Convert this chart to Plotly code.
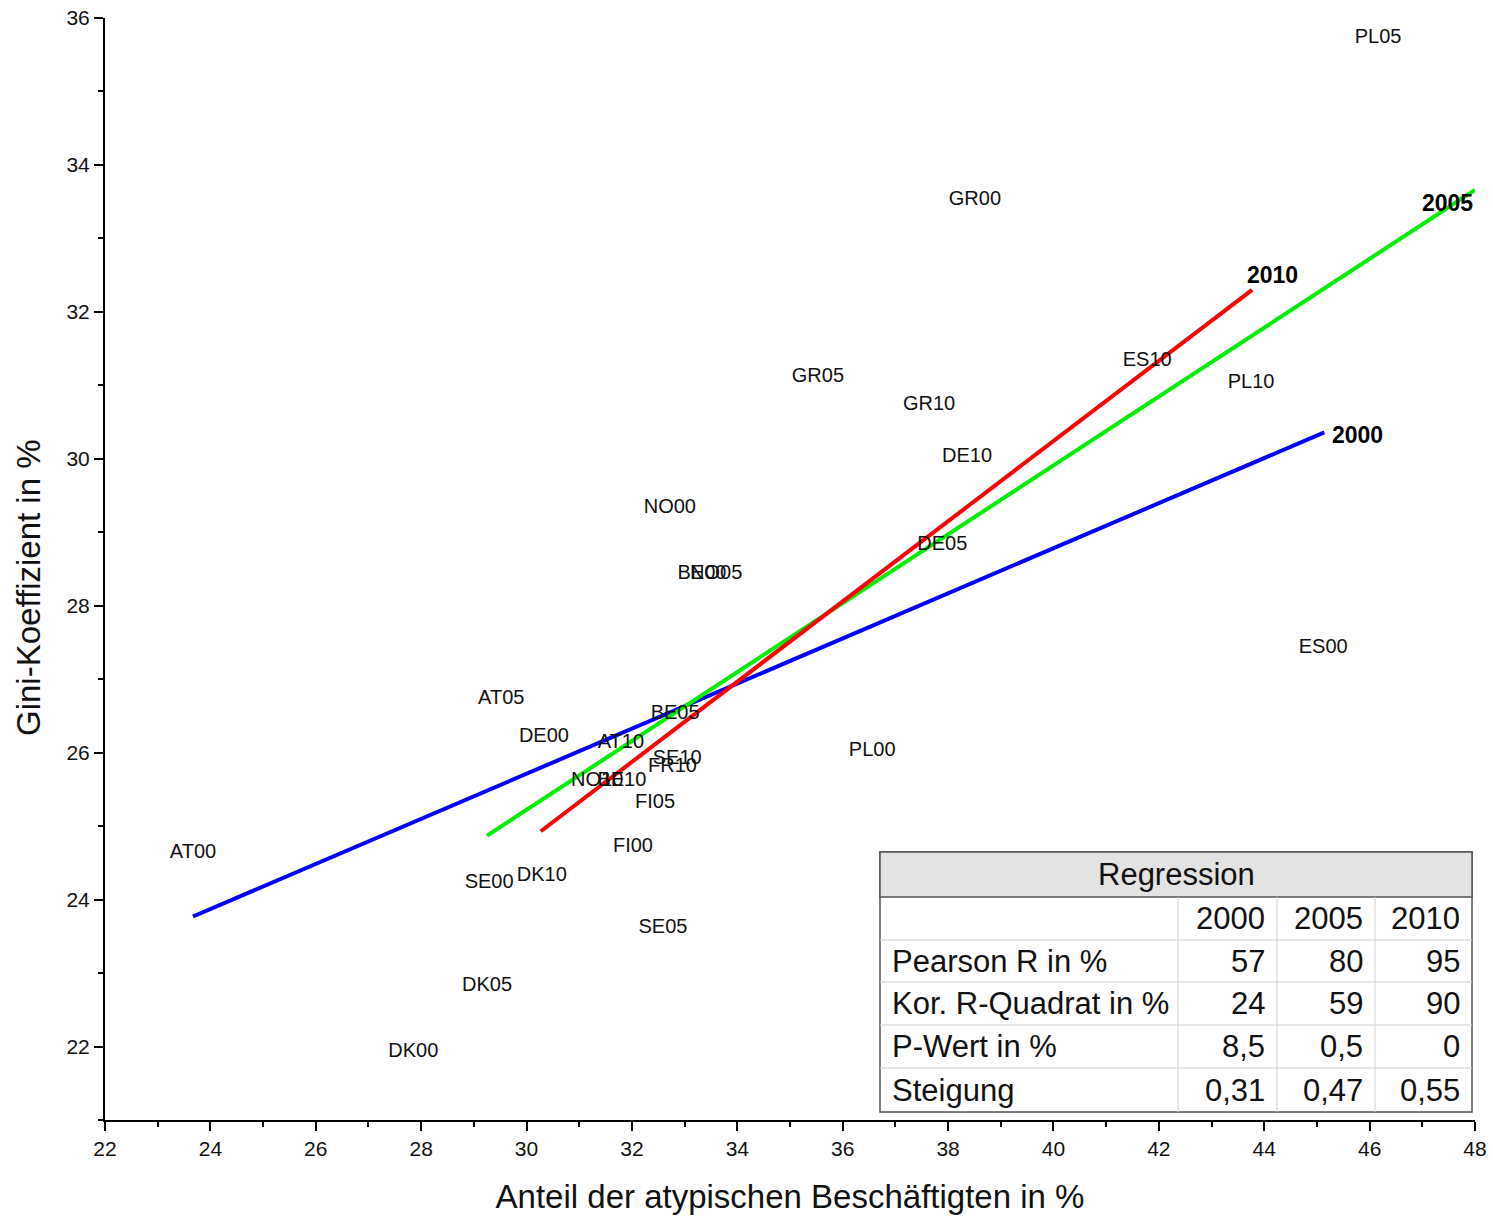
import plotly.graph_objects as go

# ---- data ----
labels = ["PL05", "GR00", "GR05", "GR10", "ES10", "PL10", "DE10", "NO00", "BE00", "NO05",
          "DE05", "ES00", "AT05", "BE05", "DE00", "AT10", "PL00", "SE10", "FR10", "NO10",
          "BE10", "FI05", "FI00", "AT00", "SE00", "DK10", "SE05", "DK05", "DK00"]
atyp = [46.16, 38.51, 35.53, 37.64, 41.78, 43.75, 38.36, 32.72, 33.33, 33.60,
        37.89, 45.12, 29.52, 32.82, 30.33, 31.79, 36.56, 32.86, 32.77, 31.34,
        31.81, 32.44, 32.02, 23.67, 29.29, 30.29, 32.59, 29.25, 27.85]
gini = [35.73, 33.52, 31.12, 30.73, 31.33, 31.03, 30.02, 29.33, 28.43, 28.43,
        28.82, 27.42, 26.73, 26.52, 26.22, 26.13, 26.02, 25.92, 25.81, 25.62,
        25.62, 25.32, 24.72, 24.63, 24.22, 24.32, 23.62, 22.83, 21.93]

fit_years = ["2000", "2005", "2010"]
fit_colors = ["#0000ff", "#00ee00", "#ff0000"]
fit_x = [[23.67, 45.14], [29.25, 48.0], [30.27, 43.77]]
fit_y = [[23.77, 30.36], [24.87, 33.66], [24.93, 32.30]]

table_title = "Regression"
table_cols = ["", "2000", "2005", "2010"]
table_rows = [
    ["Pearson R in %", "57", "80", "95"],
    ["Kor. R-Quadrat in %", "24", "59", "90"],
    ["P-Wert in %", "8,5", "0,5", "0"],
    ["Steigung", "0,31", "0,47", "0,55"],
]

x_title = "Anteil der atypischen Beschäftigten in %"
y_title = "Gini-Koeffizient in %"

FONT = "Liberation Sans, Arial, sans-serif"

W, H = 1493, 1216
L, R, T, B = 105, 1475, 18, 1120   # plot area in page pixels

def px(xp):
    return (xp - L) / (R - L)
def py(yp):
    return (B - yp) / (B - T)

fig = go.Figure()

# regression lines
label_style = {
    "2000": dict(xanchor="left", xshift=6, yshift=-3),
    "2005": dict(xanchor="right", xshift=0, yshift=-13),
    "2010": dict(xanchor="left", xshift=-7, yshift=15),
}
for yr, col, xs, ys in zip(fit_years, fit_colors, fit_x, fit_y):
    fig.add_trace(go.Scatter(x=xs, y=ys, mode="lines", line=dict(color=col, width=4),
                             showlegend=False, hoverinfo="skip"))
    fig.add_annotation(x=xs[1], y=ys[1], text="<b>%s</b>" % yr, showarrow=False,
                       yanchor="middle", font=dict(family=FONT, size=23, color="black"),
                       **label_style[yr])

# country labels
fig.add_trace(go.Scatter(x=atyp, y=gini, mode="text", text=labels,
                         textposition="middle center",
                         textfont=dict(family=FONT, size=20, color="#111111"),
                         showlegend=False))

# ---- table drawn with shapes/annotations (page pixel positions) ----
tx0, tx1 = 880, 1472
row_edges = [852, 897, 940, 982, 1025, 1068, 1112]
col_edges = [880, 1178, 1277, 1375, 1472]

fig.add_shape(type="rect", xref="paper", yref="paper",
              x0=px(tx0), x1=px(tx1), y0=py(row_edges[-1]), y1=py(row_edges[0]),
              fillcolor="white", line=dict(color="#555555", width=1.5), layer="above")
fig.add_shape(type="rect", xref="paper", yref="paper",
              x0=px(tx0), x1=px(tx1), y0=py(row_edges[1]), y1=py(row_edges[0]),
              fillcolor="#e3e3e3", line=dict(color="#555555", width=1.5), layer="above")
for ye in row_edges[2:-1]:
    fig.add_shape(type="line", xref="paper", yref="paper",
                  x0=px(tx0), x1=px(tx1), y0=py(ye), y1=py(ye),
                  line=dict(color="#d0d0d0", width=1), layer="above")
for xe in col_edges[1:-1]:
    fig.add_shape(type="line", xref="paper", yref="paper",
                  x0=px(xe), x1=px(xe), y0=py(row_edges[-1]), y1=py(row_edges[1]),
                  line=dict(color="#d0d0d0", width=1), layer="above")

fig.add_annotation(xref="paper", yref="paper", x=px((tx0 + tx1) / 2),
                   y=py((row_edges[0] + row_edges[1]) / 2), text=table_title,
                   showarrow=False, xanchor="center", yanchor="middle",
                   font=dict(family=FONT, size=31, color="#111111"))

all_rows = [table_cols] + table_rows
for ri, row in enumerate(all_rows):
    ymid = py((row_edges[ri + 1] + row_edges[ri + 2]) / 2)
    for ci, cell in enumerate(row):
        if not cell:
            continue
        if ci == 0:
            fig.add_annotation(xref="paper", yref="paper", x=px(col_edges[0] + 10), y=ymid,
                               text=cell, showarrow=False, xanchor="left", yanchor="middle",
                               font=dict(family=FONT, size=31, color="#111111"))
        else:
            fig.add_annotation(xref="paper", yref="paper", x=px(col_edges[ci + 1] - 10), y=ymid,
                               text=cell, showarrow=False, xanchor="right", yanchor="middle",
                               font=dict(family=FONT, size=31, color="#111111"))

# y axis title as rotated annotation (positioned like the reference)
fig.add_annotation(xref="paper", yref="paper", x=px(29), y=py(588), text=y_title,
                   textangle=-90, showarrow=False, xanchor="center", yanchor="middle",
                   font=dict(family=FONT, size=33, color="#111111"))

axis_common = dict(showgrid=False, zeroline=False, showline=True, linecolor="black",
                   linewidth=2, ticks="outside", ticklen=9, tickwidth=2, tickcolor="black",
                   automargin=False, ticklabeloverflow="allow",
                   tickfont=dict(family=FONT, size=21, color="#111111"),
                   minor=dict(ticks="outside", ticklen=5, tickwidth=1.5, tickcolor="black", dtick=1))

fig.update_layout(
    width=W, height=H,
    margin=dict(l=L, r=W - R, t=T, b=H - B, autoexpand=False),
    plot_bgcolor="white", paper_bgcolor="white",
    xaxis=dict(range=[22, 48], dtick=2, tick0=22,
               title=dict(text=x_title,
                          font=dict(family=FONT, size=33, color="#111111"), standoff=26),
               **axis_common),
    yaxis=dict(range=[21, 36], dtick=2, tick0=22, **axis_common),
)

fig.write_html("out.html", config={"displayModeBar": False},
               post_script="document.body.style.margin='0px';")
